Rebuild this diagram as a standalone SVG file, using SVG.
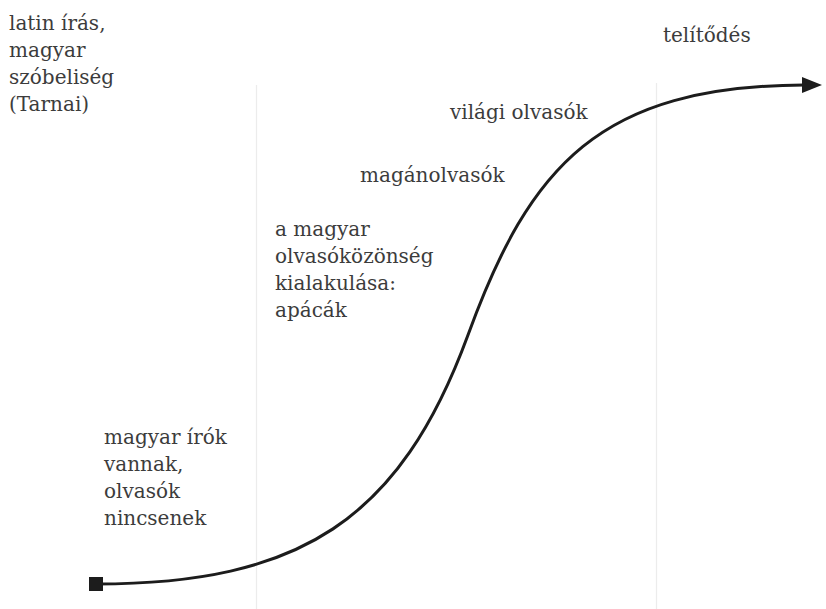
<svg xmlns="http://www.w3.org/2000/svg" width="826" height="609" viewBox="0 0 826 609">
<style>
text{font-family:"DejaVu Serif","Liberation Serif",serif;font-size:20px;fill:#3c3c3c}
.grid{stroke:#ececec;stroke-width:1.2;fill:none}
.curve{stroke:#1c1c1c;stroke-width:3;fill:none}
</style>
<defs>
<marker id="arrow" viewBox="0 0 20 16" refX="2" refY="8" markerWidth="20" markerHeight="16" markerUnits="userSpaceOnUse" orient="auto">
<path d="M0,0 L20,8 L0,16 Z" fill="#1c1c1c"/>
</marker>
</defs>
<g id="gridlines">
<line class="grid" x1="256.5" y1="85" x2="256.5" y2="609"/>
<line class="grid" x1="656.5" y1="83" x2="656.5" y2="609"/>
</g>
<g id="connectors">
<path class="curve" d="M96,584 C300,584 400,520 468,335 C530,165 600,86 804,85" marker-end="url(#arrow)"/>
</g>
<g id="start">
<rect x="89" y="577" width="14" height="14" fill="#1c1c1c"/>
</g>
<g id="node-latin">
<text x="9" y="30">latin írás,</text>
<text x="9" y="57">magyar</text>
<text x="9" y="84">szóbeliség</text>
<text x="9" y="111">(Tarnai)</text>
</g>
<g id="node-telitodes"><text x="663" y="42">telítődés</text></g>
<g id="node-vilagi"><text x="450" y="119">világi olvasók</text></g>
<g id="node-magan"><text x="360" y="182">magánolvasók</text></g>
<g id="node-apacak">
<text x="275" y="236">a magyar</text>
<text x="275" y="263">olvasóközönség</text>
<text x="275" y="290">kialakulása:</text>
<text x="275" y="317">apácák</text>
</g>
<g id="node-irok">
<text x="104" y="444">magyar írók</text>
<text x="104" y="471">vannak,</text>
<text x="104" y="498">olvasók</text>
<text x="104" y="525">nincsenek</text>
</g>
</svg>
